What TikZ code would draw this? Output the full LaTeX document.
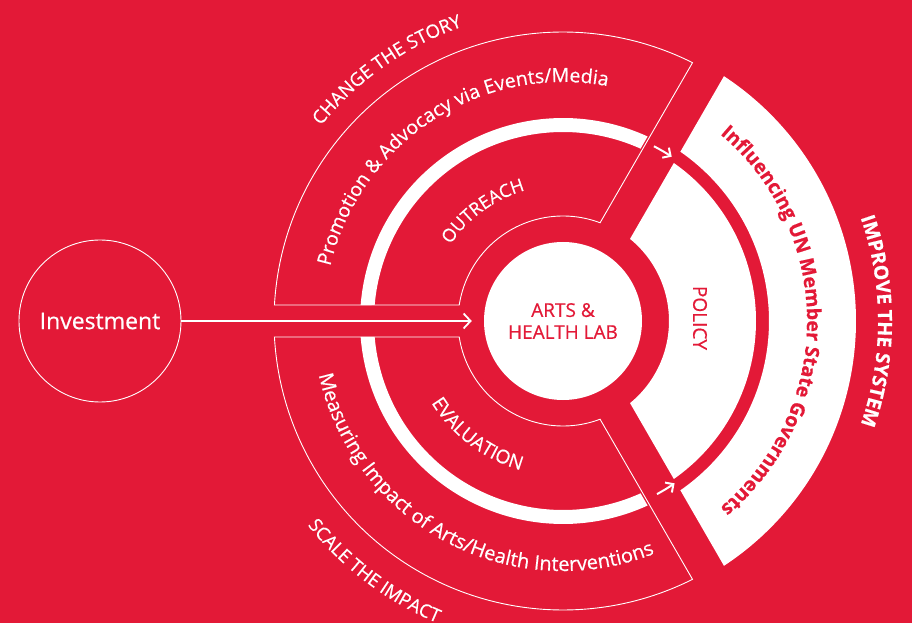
\documentclass[tikz,border=0pt]{standalone}
\usepackage{fontspec}
\setmainfont{Open Sans}[FakeBold=0.5]
\usetikzlibrary{arrows.meta,decorations.text}
\definecolor{bgred}{RGB}{227,25,55}
\begin{document}
\begin{tikzpicture}[
  outl/.style={draw=white, line width=0.9pt},
  wfill/.style={fill=white},
  smallarr/.style={draw=white, line width=2pt, -{Straight Barb[length=6pt,width=12pt]}},
  mainarr/.style={draw=white, line width=1.8pt, -{Straight Barb[length=7pt,width=15pt]}},
  labnode/.style={circle, fill=white, minimum size=158pt, inner sep=0pt, align=center, text=bgred, font=\fontsize{19}{22}\selectfont},
  invnode/.style={circle, draw=white, line width=0.9pt, minimum size=162pt, inner sep=0pt, text=white, font=\fontsize{23}{24}\selectfont},
  policytext/.style={text=bgred, font=\fontsize{19}{20}\selectfont, rotate=-90}
]
\useasboundingbox (-563pt,-302pt) rectangle (349pt,321pt);
\fill[bgred] (-563pt,-302pt) rectangle (349pt,321pt);

% POLICY sector
\pgfmathsetmacro{\pO}{60-asin(17/193)}
\pgfmathsetmacro{\pI}{60-asin(17/106)}
\fill[white] (\pO:193pt) arc[start angle=\pO, end angle=-\pO, radius=193pt] -- (-\pI:106pt) arc[start angle=-\pI, end angle=\pI, radius=106pt] -- cycle;

% outer white band
\pgfmathsetmacro{\bO}{60-asin(17/293)}
\pgfmathsetmacro{\bI}{60-asin(17/206)}
\fill[white] (\bO:293pt) arc[start angle=\bO, end angle=-\bO, radius=293pt] -- (-\bI:206pt) arc[start angle=-\bI, end angle=\bI, radius=206pt] -- cycle;

% thick white arcs on the left
\pgfmathsetmacro{\wOa}{180-asin(16/203)}
\pgfmathsetmacro{\wOb}{60+asin(19/203)}
\pgfmathsetmacro{\wIa}{180-asin(16/189)}
\pgfmathsetmacro{\wIb}{60+asin(19/189)}
\fill[white] (\wOa:203pt) arc[start angle=\wOa, end angle=\wOb, radius=203pt] -- (\wIb:189pt) arc[start angle=\wIb, end angle=\wIa, radius=189pt] -- cycle;
\fill[white] (-\wOa:203pt) arc[start angle=-\wOa, end angle=-\wOb, radius=203pt] -- (-\wIb:189pt) arc[start angle=-\wIb, end angle=-\wIa, radius=189pt] -- cycle;

% outlines
\pgfmathsetmacro{\aOo}{180-asin(16/289)}
\pgfmathsetmacro{\aOe}{60+asin(17/289)}
\pgfmathsetmacro{\aIe}{60+asin(17/105)}
\pgfmathsetmacro{\aIo}{180-asin(16/105)}
\draw[outl] (\aOo:289pt) arc[start angle=\aOo, end angle=\aOe, radius=289pt] -- (\aIe:105pt) arc[start angle=\aIe, end angle=\aIo, radius=105pt] -- cycle;
\draw[outl] (-\aOo:289pt) arc[start angle=-\aOo, end angle=-\aOe, radius=289pt] -- (-\aIe:105pt) arc[start angle=-\aIe, end angle=-\aIo, radius=105pt] -- cycle;

% small arrows
\coordinate (ta1) at (62.5:197pt);
\coordinate (tb1) at (-61.5:197pt);
\draw[smallarr] (ta1) arc[start angle=62.5, end angle=56.5, radius=197pt];
\draw[smallarr] (tb1) arc[start angle=-61.5, end angle=-55.5, radius=197pt];

% nodes
\node[labnode] (lab) at (0pt,0pt) {ARTS \&\\HEALTH LAB};
\node[invnode] (inv) at (-463pt,0pt) {Investment};
\draw[mainarr, shorten >=12pt] (inv.east) -- (lab.west);
\node[policytext] (policy) at (137pt,3pt) {POLICY};

% arc texts
\path[decorate, decoration={text along path, text align=center, text={|\fontsize{18.5}{20}\selectfont\color{white}|CHANGE THE STORY}}] (185:311pt) arc[start angle=185, end angle=65, radius=311pt];
\path[decorate, decoration={text along path, text align=center, text={|\fontsize{19.5}{20}\selectfont\color{white}|Promotion {\&} Advocacy via Events/Media}}] (183:239pt) arc[start angle=183, end angle=63, radius=239pt];
\path[decorate, decoration={text along path, text align=center, text={|\fontsize{18}{20}\selectfont\color{white}|OUTREACH}}] (186:136pt) arc[start angle=186, end angle=66, radius=136pt];
\path[decorate, decoration={text along path, text align=center, text={|\fontsize{19}{20}\selectfont\color{white}|EVALUATION}}] (-187:155pt) arc[start angle=-187, end angle=-67, radius=155pt];
\path[decorate, decoration={text along path, text align=center, text={|\fontsize{20}{20}\selectfont\color{white}|Measuring Impact of Arts/Health Interventions}}] (-178:250pt) arc[start angle=-178, end angle=-58, radius=250pt];
\path[decorate, decoration={text along path, text align=center, text={|\fontsize{18.5}{20}\selectfont\color{white}|SCALE THE IMPACT}}] (-187:327pt) arc[start angle=-187, end angle=-67, radius=327pt];
\path[decorate, decoration={text along path, text align=center, text={|\fontsize{19.5}{20}\selectfont\bfseries\color{bgred}|Influencing UN Member State Governments}}] (60:244pt) arc[start angle=60, end angle=-60, radius=244pt];
\path[decorate, decoration={text along path, text align=center, text={|\fontsize{19.5}{20}\selectfont\bfseries\color{white}|IMPROVE THE SYSTEM}}] (60:315pt) arc[start angle=60, end angle=-60, radius=315pt];
\end{tikzpicture}
\end{document}
